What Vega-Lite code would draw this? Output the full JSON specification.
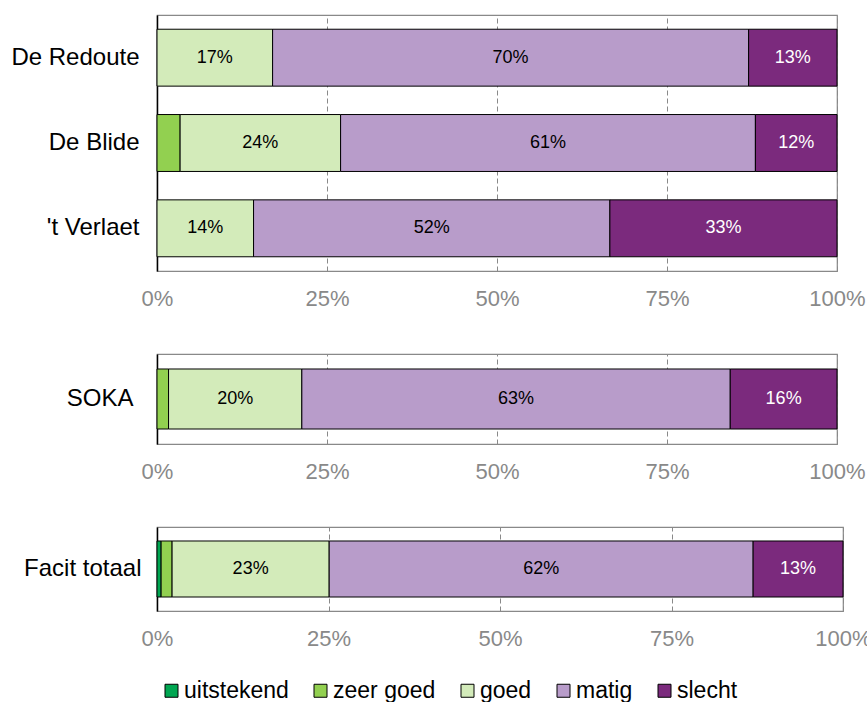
{
  "$schema": "https://vega.github.io/schema/vega-lite/v6.json",
  "padding": {"left": 10, "top": 14, "right": 0, "bottom": 0},
  "config": {
    "font": "Liberation Sans",
    "view": {"stroke": "#898989", "strokeWidth": 1.2},
    "axis": {"title": null, "ticks": false, "labelFont": "Liberation Sans"},
    "legend": {"padding": 0}
  },
  "datasets": {
    "d": [
      {"p": 1, "loc": "De Redoute", "cat": "goed", "r": 3, "v": 0.17},
      {"p": 1, "loc": "De Redoute", "cat": "matig", "r": 4, "v": 0.70},
      {"p": 1, "loc": "De Redoute", "cat": "slecht", "r": 5, "v": 0.13},
      {"p": 1, "loc": "De Blide", "cat": "zeer goed", "r": 2, "v": 0.034},
      {"p": 1, "loc": "De Blide", "cat": "goed", "r": 3, "v": 0.236},
      {"p": 1, "loc": "De Blide", "cat": "matig", "r": 4, "v": 0.61},
      {"p": 1, "loc": "De Blide", "cat": "slecht", "r": 5, "v": 0.12},
      {"p": 1, "loc": "'t Verlaet", "cat": "goed", "r": 3, "v": 0.142},
      {"p": 1, "loc": "'t Verlaet", "cat": "matig", "r": 4, "v": 0.524},
      {"p": 1, "loc": "'t Verlaet", "cat": "slecht", "r": 5, "v": 0.334},
      {"p": 2, "loc": "SOKA", "cat": "zeer goed", "r": 2, "v": 0.017},
      {"p": 2, "loc": "SOKA", "cat": "goed", "r": 3, "v": 0.196},
      {"p": 2, "loc": "SOKA", "cat": "matig", "r": 4, "v": 0.63},
      {"p": 2, "loc": "SOKA", "cat": "slecht", "r": 5, "v": 0.157},
      {"p": 3, "loc": "Facit totaal", "cat": "uitstekend", "r": 1, "v": 0.006},
      {"p": 3, "loc": "Facit totaal", "cat": "zeer goed", "r": 2, "v": 0.016},
      {"p": 3, "loc": "Facit totaal", "cat": "goed", "r": 3, "v": 0.229},
      {"p": 3, "loc": "Facit totaal", "cat": "matig", "r": 4, "v": 0.618},
      {"p": 3, "loc": "Facit totaal", "cat": "slecht", "r": 5, "v": 0.131}
    ]
  },
  "data": {"name": "d"},
  "concat": [
    {
      "width": 680, "height": 256,
      "transform": [{"filter": "datum.p == 1"}],
      "encoding": {
        "y": {"field": "loc", "type": "nominal", "sort": null, "scale": {"paddingInner": 0.333, "paddingOuter": 0.1667},
          "axis": {"domainColor": "black", "domainWidth": 1.5, "labelColor": "black", "labelFontSize": 24, "labelPadding": 18, "minExtent": 145, "maxExtent": 145}},
        "x": {"field": "v", "type": "quantitative", "stack": "zero", "scale": {"domain": [0, 1]},
          "axis": {"format": ".0%", "values": [0, 0.25, 0.5, 0.75, 1], "grid": true, "gridDash": [5, 3], "gridColor": "#898989", "domain": false, "labelColor": "#898989", "labelFontSize": 22, "labelPadding": 17, "labelFlush": false, "tickSize": 0}}
      },
      "layer": [
        {"mark": {"type": "bar", "stroke": "black", "strokeWidth": 1},
         "encoding": {
           "color": {"field": "cat", "type": "nominal",
             "scale": {"domain": ["uitstekend", "zeer goed", "goed", "matig", "slecht"], "range": ["#00A651", "#92D050", "#D3EBBA", "#B89CCA", "#7B2A7D"]},
             "legend": {"title": null, "orient": "none", "direction": "horizontal", "legendX": 3, "legendY": 664, "symbolType": "square", "symbolSize": 169, "symbolStrokeColor": "black", "symbolStrokeWidth": 1, "labelFontSize": 23, "labelColor": "black", "labelOffset": 1, "columnPadding": 20}},
           "order": {"field": "r"}}},
        {"mark": {"type": "text", "fontSize": 18},
         "encoding": {
           "x": {"field": "v", "type": "quantitative", "stack": "zero", "bandPosition": 0.5},
           "detail": {"field": "cat"},
           "order": {"field": "r"},
           "text": {"condition": {"test": "datum.v >= 0.1", "field": "v", "type": "quantitative", "format": ".0%"}, "value": ""},
           "color": {"condition": {"test": "datum.cat == 'slecht'", "value": "white"}, "value": "black"}}}
      ]
    },
    {
      "width": 680, "height": 90,
      "transform": [{"filter": "datum.p == 2"}],
      "encoding": {
        "y": {"field": "loc", "type": "nominal", "sort": null, "scale": {"paddingInner": 0.333, "paddingOuter": 0.1667},
          "axis": {"domainColor": "black", "domainWidth": 1.5, "labelColor": "black", "labelFontSize": 24, "labelPadding": 24, "minExtent": 145, "maxExtent": 145}},
        "x": {"field": "v", "type": "quantitative", "stack": "zero", "scale": {"domain": [0, 1]},
          "axis": {"format": ".0%", "values": [0, 0.25, 0.5, 0.75, 1], "grid": true, "gridDash": [5, 3], "gridColor": "#898989", "domain": false, "labelColor": "#898989", "labelFontSize": 22, "labelPadding": 17, "labelFlush": false, "tickSize": 0}}
      },
      "layer": [
        {"mark": {"type": "bar", "stroke": "black", "strokeWidth": 1},
         "encoding": {
           "color": {"field": "cat", "type": "nominal"},
           "order": {"field": "r"}}},
        {"mark": {"type": "text", "fontSize": 18},
         "encoding": {
           "x": {"field": "v", "type": "quantitative", "stack": "zero", "bandPosition": 0.5},
           "detail": {"field": "cat"},
           "order": {"field": "r"},
           "text": {"condition": {"test": "datum.v >= 0.1", "field": "v", "type": "quantitative", "format": ".0%"}, "value": ""},
           "color": {"condition": {"test": "datum.cat == 'slecht'", "value": "white"}, "value": "black"}}}
      ]
    },
    {
      "width": 686, "height": 84,
      "transform": [{"filter": "datum.p == 3"}],
      "encoding": {
        "y": {"field": "loc", "type": "nominal", "sort": null, "scale": {"paddingInner": 0.333, "paddingOuter": 0.1667},
          "axis": {"domainColor": "black", "domainWidth": 1.5, "labelColor": "black", "labelFontSize": 24, "labelPadding": 16, "minExtent": 145, "maxExtent": 145}},
        "x": {"field": "v", "type": "quantitative", "stack": "zero", "scale": {"domain": [0, 1]},
          "axis": {"format": ".0%", "values": [0, 0.25, 0.5, 0.75, 1], "grid": true, "gridDash": [5, 3], "gridColor": "#898989", "domain": false, "labelColor": "#898989", "labelFontSize": 22, "labelPadding": 17, "labelFlush": false, "tickSize": 0}}
      },
      "layer": [
        {"mark": {"type": "bar", "stroke": "black", "strokeWidth": 1},
         "encoding": {
           "color": {"field": "cat", "type": "nominal"},
           "order": {"field": "r"}}},
        {"mark": {"type": "text", "fontSize": 18},
         "encoding": {
           "x": {"field": "v", "type": "quantitative", "stack": "zero", "bandPosition": 0.5},
           "detail": {"field": "cat"},
           "order": {"field": "r"},
           "text": {"condition": {"test": "datum.v >= 0.1", "field": "v", "type": "quantitative", "format": ".0%"}, "value": ""},
           "color": {"condition": {"test": "datum.cat == 'slecht'", "value": "white"}, "value": "black"}}}
      ]
    }
  ],
  "columns": 1,
  "align": "none",
  "spacing": 43
}
